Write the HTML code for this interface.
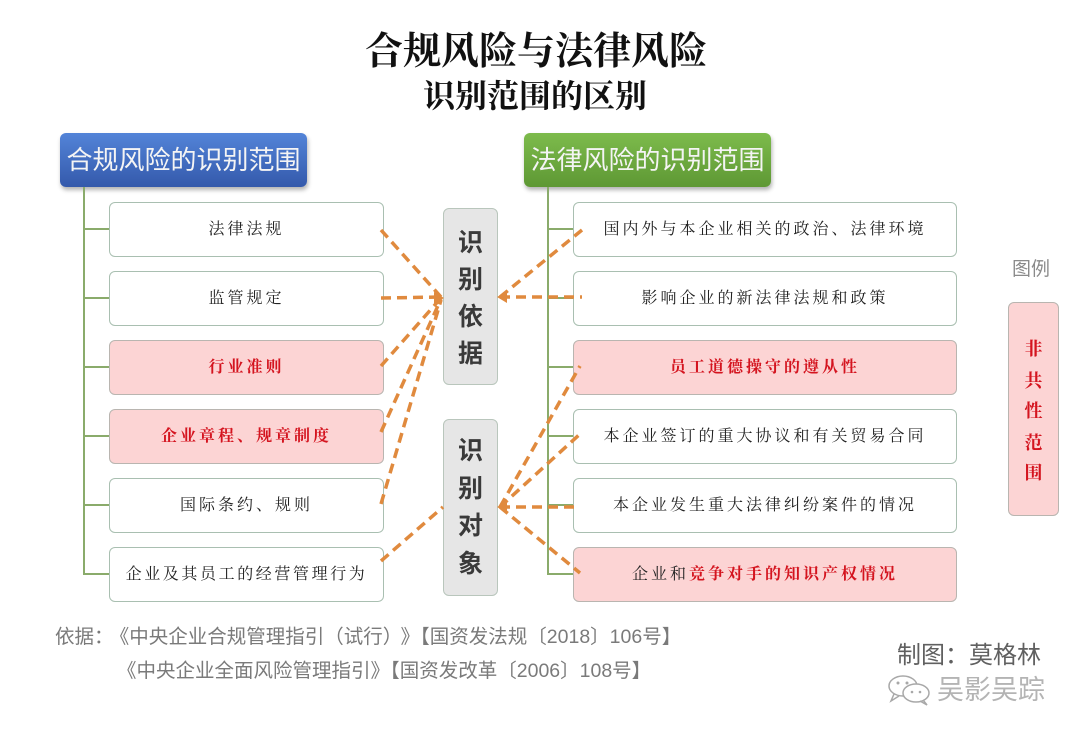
<!DOCTYPE html>
<html><head><meta charset="utf-8">
<style>
*{margin:0;padding:0;box-sizing:border-box}
body{width:1080px;height:740px;background:#fff;position:relative;overflow:hidden;font-family:"Liberation Sans","Noto Sans CJK SC",sans-serif}
.abs{position:absolute}
.t1{left:0;width:1072px;top:30px;text-align:center;font-family:"Liberation Serif","Noto Serif CJK SC",serif;font-weight:700;font-size:38px;line-height:44px;color:#111}
.t2{left:0;width:1070px;top:77px;text-align:center;font-family:"Liberation Serif","Noto Serif CJK SC",serif;font-weight:700;font-size:32px;line-height:38px;color:#111}
.hdr{height:54px;border-radius:6px;color:#f4f4f4;font-size:26px;line-height:54px;text-align:center;box-shadow:1px 3px 4px rgba(0,0,0,0.3)}
.blue{left:60px;top:133px;width:247px;background:linear-gradient(#5384d8,#3459ab)}
.green{left:524px;top:133px;width:247px;background:linear-gradient(#7dbb4c,#5e9834)}
.box{height:55px;border:1px solid #a9bfb1;border-radius:6px;background:#fff;font-family:"Liberation Serif","Noto Serif CJK SC",serif;font-size:16px;letter-spacing:3px;line-height:53px;text-align:center;color:#222}
.L{left:109px;width:275px}
.R{left:573px;width:384px}
.pink{background:#fcd4d4;border-color:#b9b5b0}
.red{color:#d4141f;font-weight:700}
.idb{left:443px;width:55px;height:177px;background:#e6e6e6;border:1px solid #b9c6bc;border-radius:6px}
.ch{position:absolute;left:0;width:100%;text-align:center;font-size:25px;font-weight:700;color:#3a3a3a;line-height:30px}
.lg{position:absolute;left:0;width:100%;text-align:center;font-family:"Liberation Serif","Noto Serif CJK SC",serif;font-size:18px;font-weight:700;color:#d4141f;line-height:24px}
.foot{font-size:19.5px;color:#7a7a7a;line-height:24px;white-space:nowrap}
</style></head><body>

<div class="abs t1">合规风险与法律风险</div>
<div class="abs t2">识别范围的区别</div>

<div class="abs hdr blue">合规风险的识别范围</div>
<div class="abs hdr green">法律风险的识别范围</div>

<svg class="abs" style="left:0;top:0" width="1080" height="740">
  <g stroke="#8aab6b" stroke-width="2" fill="none">
    <line x1="84" y1="187" x2="84" y2="575"/>
    <line x1="84" y1="229" x2="110" y2="229"/>
    <line x1="84" y1="298" x2="110" y2="298"/>
    <line x1="84" y1="367" x2="110" y2="367"/>
    <line x1="84" y1="436" x2="110" y2="436"/>
    <line x1="84" y1="505" x2="110" y2="505"/>
    <line x1="84" y1="574" x2="110" y2="574"/>
    <line x1="548" y1="187" x2="548" y2="575"/>
    <line x1="548" y1="229" x2="574" y2="229"/>
    <line x1="548" y1="298" x2="574" y2="298"/>
    <line x1="548" y1="367" x2="574" y2="367"/>
    <line x1="548" y1="436" x2="574" y2="436"/>
    <line x1="548" y1="505" x2="574" y2="505"/>
    <line x1="548" y1="574" x2="574" y2="574"/>
  </g>
</svg>

<div class="abs box L" style="top:202px">法律法规</div>
<div class="abs box L" style="top:271px">监管规定</div>
<div class="abs box L pink" style="top:340px"><span class="red">行业准则</span></div>
<div class="abs box L pink" style="top:409px"><span class="red">企业章程、规章制度</span></div>
<div class="abs box L" style="top:478px">国际条约、规则</div>
<div class="abs box L" style="top:547px;letter-spacing:2.6px">企业及其员工的经营管理行为</div>

<div class="abs box R" style="top:202px">国内外与本企业相关的政治、法律环境</div>
<div class="abs box R" style="top:271px">影响企业的新法律法规和政策</div>
<div class="abs box R pink" style="top:340px"><span class="red">员工道德操守的遵从性</span></div>
<div class="abs box R" style="top:409px">本企业签订的重大协议和有关贸易合同</div>
<div class="abs box R" style="top:478px">本企业发生重大法律纠纷案件的情况</div>
<div class="abs box R pink" style="top:547px">企业和<span class="red">竞争对手的知识产权情况</span></div>

<div class="abs idb" style="top:208px">
  <div class="ch" style="top:19px">识</div>
  <div class="ch" style="top:56px">别</div>
  <div class="ch" style="top:93px">依</div>
  <div class="ch" style="top:130px">据</div>
</div>
<div class="abs idb" style="top:419px">
  <div class="ch" style="top:16px">识</div>
  <div class="ch" style="top:54px">别</div>
  <div class="ch" style="top:91px">对</div>
  <div class="ch" style="top:129px">象</div>
</div>

<svg class="abs" style="left:0;top:0" width="1080" height="740">
  <g stroke="#e08a3e" stroke-width="3.5" stroke-dasharray="10 6" fill="none">
    <line x1="381" y1="230" x2="441" y2="297"/>
    <line x1="381" y1="298" x2="441" y2="297"/>
    <line x1="381" y1="366" x2="441" y2="298"/>
    <line x1="381" y1="432" x2="441" y2="299"/>
    <line x1="381" y1="504" x2="441" y2="300"/>
    <line x1="381" y1="561" x2="443" y2="507"/>
    <line x1="500" y1="297" x2="582" y2="230"/>
    <line x1="500" y1="297" x2="582" y2="297"/>
    <line x1="500" y1="507" x2="580" y2="366"/>
    <line x1="500" y1="507" x2="580" y2="434"/>
    <line x1="500" y1="507" x2="580" y2="507"/>
    <line x1="500" y1="507" x2="580" y2="573"/>
  </g>
  <g fill="#e08a3e">
    <polygon points="444,298 434,292 434,304"/>
    <polygon points="497,297 507,291 507,303"/>
    <polygon points="497,507 507,501 507,513"/>
  </g>
</svg>

<div class="abs" style="left:1012px;top:258px;font-size:19px;color:#8a8a8a;line-height:24px">图例</div>
<div class="abs" style="left:1008px;top:302px;width:51px;height:214px;background:#fcd4d4;border:1px solid #b9b5b0;border-radius:6px">
  <div class="lg" style="top:34px">非</div>
  <div class="lg" style="top:66px">共</div>
  <div class="lg" style="top:96px">性</div>
  <div class="lg" style="top:128px">范</div>
  <div class="lg" style="top:158px">围</div>
</div>

<div class="abs foot" style="left:55px;top:625px">依据：<span style="margin-left:6px">《中央企业合规管理指引（试行）</span><span style="margin-left:8px">》【国资发法规〔2018〕106号】</span></div>
<div class="abs foot" style="left:117px;top:659px">《中央企业全面风险管理指引》【国资发改革〔2006〕108号】</div>

<div class="abs" style="left:897px;top:641px;font-size:24px;color:#606060;line-height:30px;white-space:nowrap">制图：莫格林</div>

<svg class="abs" style="left:886px;top:674px" width="48" height="32">
  <g fill="none" stroke="#a8a8a8" stroke-width="1.5">
    <ellipse cx="17" cy="12" rx="14" ry="10"/>
    <ellipse cx="30" cy="19" rx="13" ry="9" fill="#fff"/>
    <path d="M8 20 L5 27 L13 22"/>
    <path d="M37 26 L41 31 L34 27"/>
  </g>
  <g fill="#a8a8a8">
    <circle cx="12" cy="9" r="1.5"/><circle cx="21" cy="9" r="1.5"/>
    <circle cx="26" cy="18" r="1.3"/><circle cx="34" cy="18" r="1.3"/>
  </g>
</svg>
<div class="abs" style="left:937px;top:674px;font-size:27px;color:#b4b4b4;line-height:32px;white-space:nowrap">吴影吴踪</div>

</body></html>
